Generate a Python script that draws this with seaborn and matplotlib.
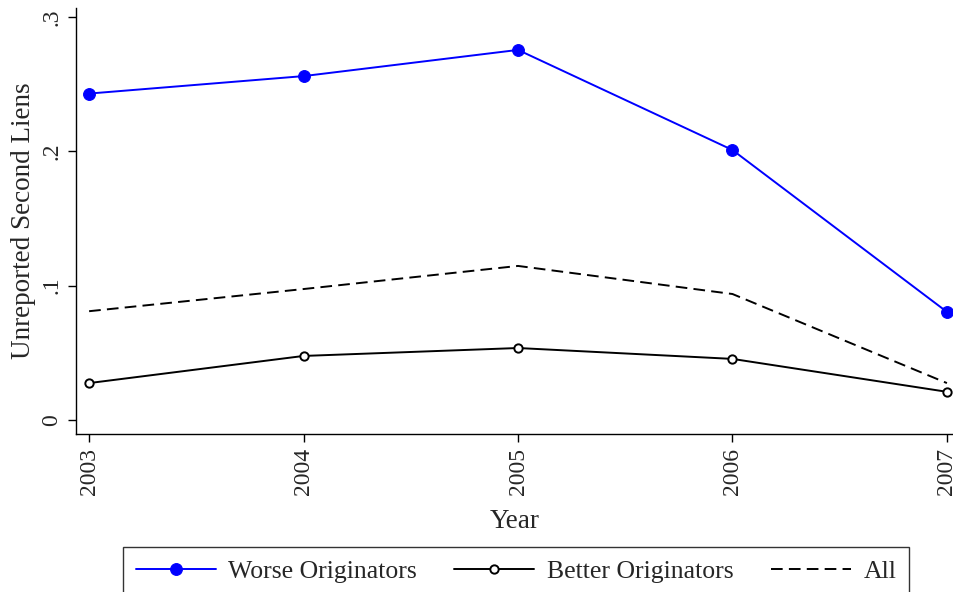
import matplotlib
matplotlib.use("Agg")
import matplotlib.pyplot as plt
import seaborn as sns
import pandas as pd

years = [2003, 2004, 2005, 2006, 2007]
worse = [0.243, 0.256, 0.2755, 0.201, 0.0805]
better = [0.0275, 0.0477, 0.0536, 0.0455, 0.021]
allOrig = [0.081, 0.0975, 0.1147, 0.0938, 0.0275]
yTicks = [0, 0.1, 0.2, 0.3]
yTickLabels = ["0", ".1", ".2", ".3"]

df = pd.DataFrame({"Year": years, "worse": worse, "better": better, "all": allOrig})

sns.set_style("ticks")
plt.rcParams["font.family"] = ["Liberation Serif", "DejaVu Serif"]
plt.rcParams["font.size"] = 17

fig = plt.figure(figsize=(9.54, 5.92), dpi=100)
ax = fig.add_axes([0.0797, 0.2669, 0.9203, 0.7196])

sns.lineplot(x="Year", y="worse", data=df, ax=ax, color="#0000ff", lw=1.4,
             marker="o", markersize=8.5, markeredgecolor="#0000ff",
             label="Worse Originators")
sns.lineplot(x="Year", y="better", data=df, ax=ax, color="black", lw=1.4,
             marker="o", markersize=6, markerfacecolor="white",
             markeredgecolor="black", markeredgewidth=1.4,
             label="Better Originators")
sns.lineplot(x="Year", y="all", data=df, ax=ax, color="black", lw=1.4,
             dashes=(6, 3.2), label="All")

ax.set_xlim(2002.939, 2007.033)
ax.set_ylim(-0.0104, 0.3067)
ax.set_xticks(years)
ax.set_xticklabels([str(y) for y in years], rotation=90)
ax.set_yticks(yTicks)
ax.set_yticklabels(yTickLabels, rotation=90, va="center")
ax.tick_params(axis="both", length=6, width=1, color="black", labelsize=17, pad=4)
ax.set_xlabel("Year", fontsize=19.5, labelpad=10)
ax.set_ylabel("Unreported Second Liens", fontsize=19.5, labelpad=4)
for side in ["top", "right"]:
    ax.spines[side].set_visible(False)
for side in ["left", "bottom"]:
    ax.spines[side].set_color("black")
    ax.spines[side].set_linewidth(1)

handles, labels = ax.get_legend_handles_labels()
ax.get_legend().remove()
leg = fig.legend(handles, labels, loc="upper center", bbox_to_anchor=(0.541, 0.076),
                 borderaxespad=0, ncol=3, frameon=True, fancybox=False,
                 handlelength=3.1, columnspacing=1.45, handletextpad=0.5,
                 borderpad=0.5, fontsize=18.5)
leg.get_frame().set_edgecolor("black")
leg.get_frame().set_linewidth(1)

fig.savefig("out.png", dpi=100, facecolor="white")
